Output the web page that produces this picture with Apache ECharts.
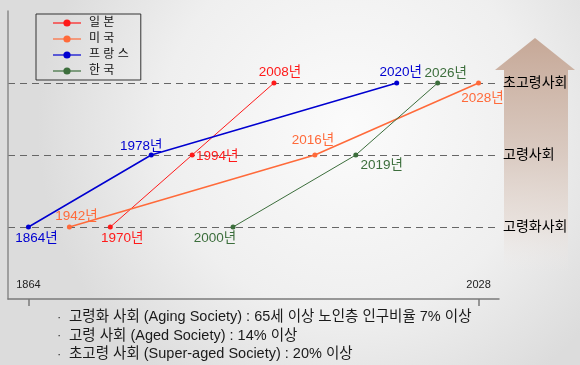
<!DOCTYPE html>
<html>
<head>
<meta charset="utf-8">
<script src="https://cdn.jsdelivr.net/npm/echarts@6/dist/echarts.min.js"></script>
<style>html,body{margin:0;padding:0;}#c{width:580px;height:365px;}</style>
</head>
<body>
<div id="c"></div>
<script>
// ---- data ----
var years = ['1864','1942','1970','1978','1994','2000','2008','2016','2019','2020','2026','2028'];
var levelNames = ['', '고령화사회', '고령사회', '초고령사회'];
var seriesNames = ['일 본', '미 국', '프 랑 스', '한 국'];
var japan  = [['1970', 1], ['1994', 2], ['2008', 3]];
var usa    = [['1942', 1], ['2016', 2], ['2028', 3]];
var france = [['1864', 1], ['1978', 2], ['2020', 3]];
var korea  = [['2000', 1], ['2019', 2], ['2026', 3]];
var notes = [
  '고령화 사회 (Aging Society) : 65세 이상 노인층 인구비율 7% 이상',
  '고령 사회 (Aged Society) : 14% 이상',
  '초고령 사회 (Super-aged Society) : 20% 이상'
];

// ---- styling (label offsets relative to each point) ----
var labelOffsets = {
  '일 본': [[12, 11], [25, 1], [6, -11]],
  '미 국': [[7, -11], [-2, -15], [4, 15]],
  '프 랑 스': [[8, 11], [-10, -9], [4, -11]],
  '한 국': [[-18, 11], [26, 10], [8, -10]]
};
var colors = ['#ff1a1a', '#ff6a3a', '#0000d0', '#3c6e3c'];
var widths = [1, 1.5, 1.5, 1];
var FONT = "'Liberation Sans', 'Noto Sans CJK KR', sans-serif";

function mk(name, data, idx) {
  var offs = labelOffsets[name];
  return {
    name: name,
    type: 'line',
    data: data.map(function (d, i) {
      return {
        value: d,
        label: { offset: offs[i] }
      };
    }),
    symbol: 'circle',
    symbolSize: 5,
    color: colors[idx],
    lineStyle: { color: colors[idx], width: widths[idx] },
    itemStyle: { color: colors[idx] },
    z: 3,
    label: {
      show: true,
      position: 'inside',
      formatter: function (p) { return p.value[0] + '년'; },
      color: colors[idx],
      fontSize: 13.5,
      fontFamily: FONT
    }
  };
}

var chart = echarts.init(document.getElementById('c'));
var labelIdx = function (i) { return i === 0 || i === years.length - 1; };

chart.setOption({
  animation: false,
  backgroundColor: {
    type: 'radial', x: 0.6, y: 0.35, r: 0.85,
    colorStops: [
      { offset: 0, color: '#fbfbfb' },
      { offset: 0.6, color: '#efefef' },
      { offset: 1, color: '#dcdcdc' }
    ]
  },
  textStyle: { fontFamily: FONT },
  legend: {
    orient: 'vertical',
    left: 36, top: 14,
    padding: [3, 12, 3, 16],
    borderColor: '#333', borderWidth: 1,
    itemWidth: 28, itemHeight: 9, itemGap: 4,
    data: seriesNames,
    lineStyle: { width: 2, opacity: 0.6 },
    textStyle: { fontSize: 12, color: '#111', lineHeight: 9, fontFamily: FONT, padding: [0, 0, 0, 3] }
  },
  grid: { left: 8, right: 81, top: 11, bottom: 66 },
  xAxis: {
    type: 'category',
    data: years,
    boundaryGap: true,
    axisLine: { show: true, lineStyle: { color: '#7a7a7a', width: 1.5 } },
    axisTick: { show: true, alignWithLabel: true, interval: labelIdx, length: 7, lineStyle: { color: '#7a7a7a', width: 1.5 } },
    axisLabel: { show: true, inside: true, interval: labelIdx, fontSize: 11, color: '#222', margin: 9 },
    splitLine: { show: false }
  },
  yAxis: [{
    type: 'value', min: 0, max: 4, interval: 1, position: 'left',
    axisLine: { show: true, lineStyle: { color: '#8a8a8a', width: 1.5 } },
    axisTick: { show: false },
    axisLabel: { show: false },
    splitLine: { show: true, showMinLine: false, showMaxLine: false, lineStyle: { color: '#666', type: [7, 5], width: 1 } }
  }, {
    type: 'value', min: 0, max: 4, interval: 1, position: 'right',
    axisLine: { show: false }, axisTick: { show: false }, splitLine: { show: false },
    axisLabel: {
      show: true, margin: 4, fontSize: 14, color: '#000',
      customValues: [1, 2, 3],
      formatter: function (v) { return levelNames[v] || ''; }
    }
  }],
  series: [
    mk('일 본', japan, 0),
    mk('미 국', usa, 1),
    mk('프 랑 스', france, 2),
    mk('한 국', korea, 3)
  ],
  graphic: [{
    type: 'polygon',
    z: -10,
    shape: { points: [[535, 38], [575, 70], [568, 70], [568, 272], [504, 272], [504, 70], [495, 70]] },
    style: {
      fill: {
        type: 'linear', x: 0, y: 0, x2: 0, y2: 1,
        colorStops: [
          { offset: 0, color: 'rgba(198,168,151,1)' },
          { offset: 0.5, color: 'rgba(216,199,189,0.9)' },
          { offset: 0.8, color: 'rgba(230,220,214,0.7)' },
          { offset: 1, color: 'rgba(240,236,234,0)' }
        ]
      }
    }
  }].concat(notes.map(function (t, i) {
    return {
      type: 'group',
      children: [{
        type: 'text', x: 57, y: 317 + i * 18.5,
        style: { text: '·', fontSize: 13, fill: '#333', verticalAlign: 'middle', fontFamily: FONT }
      }, {
        type: 'text', x: 69, y: 317 + i * 18.5,
        style: { text: t, fontSize: 14.5, fill: '#1a1a1a', verticalAlign: 'middle', fontFamily: FONT }
      }]
    };
  }))
});
</script>
</body>
</html>
